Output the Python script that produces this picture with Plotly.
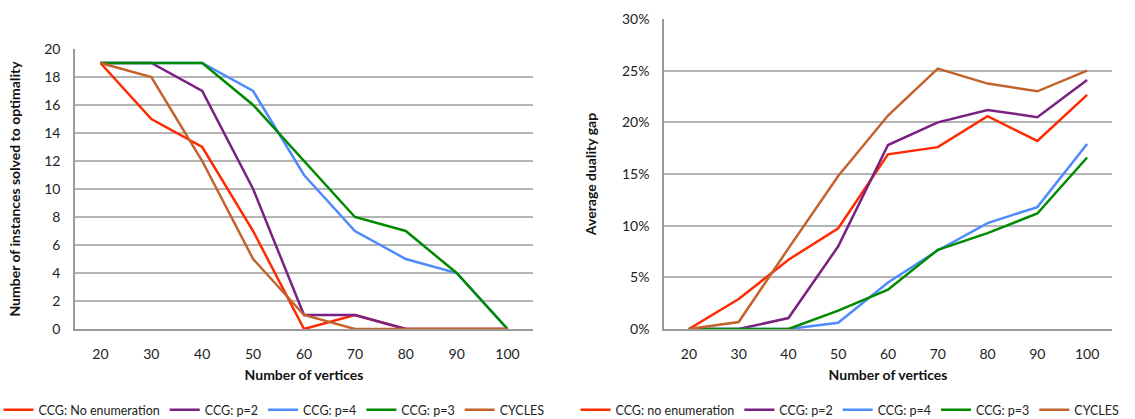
import plotly.graph_objects as go

vertices = [20, 30, 40, 50, 60, 70, 80, 90, 100]

series_left = ["CCG: No enumeration", "CCG: p=2", "CCG: p=4", "CCG: p=3", "CYCLES"]
series_right = ["CCG: no enumeration", "CCG: p=2", "CCG: p=4", "CCG: p=3", "CYCLES"]
colors = ["#FF2A00", "#7A2182", "#4F8BFF", "#008A00", "#C3622C"]

solved_no_enum = [19, 15, 13, 7, 0, 1, 0, 0, 0]
solved_p2 = [19, 19, 17, 10, 1, 1, 0, 0, 0]
solved_p4 = [19, 19, 19, 17, 11, 7, 5, 4, 0]
solved_p3 = [19, 19, 19, 16, 12, 8, 7, 4, 0]
solved_cycles = [19, 18, 12, 5, 1, 0, 0, 0, 0]

gap_no_enum = [0.0, 0.029, 0.067, 0.0975, 0.169, 0.176, 0.206, 0.182, 0.2265]
gap_p2 = [0.0, 0.0, 0.0106, 0.080, 0.178, 0.200, 0.212, 0.205, 0.241]
gap_p4 = [0.0, 0.0, 0.0, 0.006, 0.045, 0.076, 0.1025, 0.118, 0.179]
gap_p3 = [0.0, 0.0, 0.0, 0.0177, 0.038, 0.0767, 0.0928, 0.1118, 0.166]
gap_cycles = [0.0, 0.0068, 0.078, 0.148, 0.2066, 0.252, 0.2375, 0.230, 0.250]

left_values = [solved_no_enum, solved_p2, solved_p4, solved_p3, solved_cycles]
right_values = [gap_no_enum, gap_p2, gap_p4, gap_p3, gap_cycles]

FONT = "Lato, 'Open Sans', sans-serif"
GRID = "#B4B4B4"
AXIS = "#9A9A9A"

fig = go.Figure()
for name, vals, col in zip(series_left, left_values, colors):
    fig.add_trace(go.Scatter(x=vertices, y=vals, name=name, mode="lines",
                             line=dict(color=col, width=2.5),
                             xaxis="x", yaxis="y", legend="legend"))
for name, vals, col in zip(series_right, right_values, colors):
    fig.add_trace(go.Scatter(x=vertices, y=vals, name=name, mode="lines",
                             line=dict(color=col, width=2.5),
                             xaxis="x2", yaxis="y2", legend="legend2"))

W, H = 1135, 419
ML, MR, MT, MB = 75, 23, 19, 90
PW, PH = W - ML - MR, H - MT - MB

def fx(p):
    return (p - ML) / PW

def fy(p):
    return (H - MB - p) / PH

xcommon = dict(range=[15, 105], tickvals=vertices, ticktext=[str(v) for v in vertices],
               showgrid=False, zeroline=False, showline=True, linecolor=AXIS, linewidth=1.5,
               ticks="", ticklabelstandoff=11, automargin=False,
               tickfont=dict(family=FONT, size=14, color="#222"),
               title=dict(text="<b>Number of vertices</b>", font=dict(family=FONT, size=14, color="#111"),
                          standoff=10),
               fixedrange=True)

ycommon = dict(showgrid=True, gridcolor=GRID, gridwidth=1.5, zeroline=False,
               showline=True, linecolor=AXIS, linewidth=1.5, ticks="", automargin=False,
               ticklabelstandoff=10, tickfont=dict(family=FONT, size=14, color="#222"),
               fixedrange=True)

fig.update_layout(
    width=W, height=H,
    margin=dict(l=ML, r=MR, t=MT, b=MB, autoexpand=False),
    plot_bgcolor="white", paper_bgcolor="white",
    xaxis=dict(domain=[fx(75), fx(533)], anchor="y", **xcommon),
    xaxis2=dict(domain=[fx(664), fx(1112)], anchor="y2", **xcommon),
    yaxis=dict(domain=[fy(329), fy(49)], anchor="x", range=[0, 20], dtick=2,
               title=dict(text="<b>Number of instances solved to optimality</b>",
                          font=dict(family=FONT, size=14, color="#111"), standoff=20),
               **ycommon),
    yaxis2=dict(domain=[fy(329), fy(19)], anchor="x2", range=[0, 0.30], dtick=0.05,
                tickformat=".0%",
                title=dict(text="<b>Average duality gap</b>",
                           font=dict(family=FONT, size=14, color="#111"), standoff=22),
                **ycommon),
    legend=dict(orientation="h", xref="container", yref="container",
                x=274 / W, xanchor="center", y=(H - 410) / H, yanchor="middle",
                font=dict(family=FONT, size=12.5, color="#222"), itemwidth=30,
                tracegroupgap=0, bgcolor="rgba(0,0,0,0)"),
    legend2=dict(orientation="h", xref="container", yref="container",
                 x=850 / W, xanchor="center", y=(H - 410) / H, yanchor="middle",
                 font=dict(family=FONT, size=12.5, color="#222"), itemwidth=30,
                 tracegroupgap=0, bgcolor="rgba(0,0,0,0)"),
)

fig.write_html("out.html", config={"displayModeBar": False},
               post_script="document.body.style.margin='0';document.body.style.overflow='hidden';")
